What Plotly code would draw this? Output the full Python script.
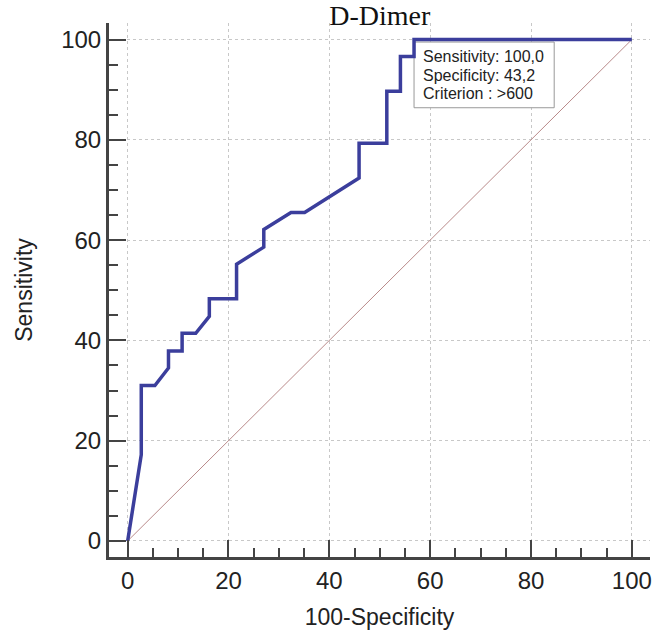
import plotly.graph_objects as go

# ROC curve points (100-Specificity, Sensitivity)
fpr = [0, 2.7, 2.7, 5.4, 8.1, 8.1, 10.8, 10.8, 13.5, 16.2, 16.2, 21.6, 21.6,
       27.0, 27.0, 32.4, 35.1, 45.9, 45.9, 51.4, 51.4, 54.1, 54.1, 56.8, 56.8, 100]
sens = [0, 17.2, 31.0, 31.0, 34.5, 37.9, 37.9, 41.4, 41.4, 44.8, 48.3, 48.3, 55.2,
        58.6, 62.1, 65.5, 65.5, 72.4, 79.3, 79.3, 89.7, 89.7, 96.6, 96.6, 100, 100]
diag_x = [0, 100]
diag_y = [0, 100]
tick_vals = [0, 20, 40, 60, 80, 100]
tick_text = ["0", "20", "40", "60", "80", "100"]
box_lines = ["Sensitivity: 100,0", "Specificity: 43,2", "Criterion : >600"]

# layout constants for the info box (data coordinates)
BOX_X0, BOX_X1, BOX_Y0, BOX_Y1 = 56.8, 84.6, 86.4, 99.5
TEXT_X = 58.1
TEXT_Y = [96.7, 92.9, 89.3]

fig = go.Figure()
fig.add_trace(go.Scatter(x=diag_x, y=diag_y, mode="lines",
                         line=dict(color="#b98a8a", width=1), hoverinfo="skip"))
fig.add_trace(go.Scatter(x=fpr, y=sens, mode="lines",
                         line=dict(color="#3b3e9c", width=3.5)))

axis_common = dict(
    automargin=False,
    showline=True, linecolor="#444444", linewidth=3, mirror=False,
    ticks="inside", ticklen=17, tickwidth=2, tickcolor="#444444",
    minor=dict(ticks="inside", ticklen=9, tickwidth=2, tickcolor="#444444", dtick=5, showgrid=False),
    showgrid=True, gridcolor="#c8c8c8", gridwidth=1, griddash="dot",
    zeroline=False, tickvals=tick_vals, ticktext=tick_text,
    tickfont=dict(family="Liberation Sans, Arial", size=24, color="#222222"),
)

annotations = []
for line, ty in zip(box_lines, TEXT_Y):
    annotations.append(dict(
        x=TEXT_X, y=ty, xref="x", yref="y", xanchor="left", yanchor="middle",
        text=line, showarrow=False, align="left",
        font=dict(family="Liberation Sans, Arial", size=16, color="#222222"),
    ))

fig.update_layout(
    width=653, height=635,
    margin=dict(l=109, r=3, t=23, b=78),
    paper_bgcolor="white", plot_bgcolor="white",
    showlegend=False,
    title=dict(text="D-Dimer", x=0.5815, xanchor="center", y=0.9756, yanchor="middle",
               automargin=False,
               font=dict(family="Liberation Serif, Times New Roman", size=28, color="#111111")),
    xaxis=dict(range=[-3.7, 103.6],
               title=dict(text="100-Specificity", standoff=17,
                          font=dict(family="Liberation Sans, Arial", size=23, color="#222222")),
               **axis_common),
    yaxis=dict(range=[-3.2, 103.3],
               title=dict(text="Sensitivity", standoff=23,
                          font=dict(family="Liberation Sans, Arial", size=23, color="#222222")),
               **axis_common),
    shapes=[dict(type="rect", xref="x", yref="y", x0=BOX_X0, x1=BOX_X1, y0=BOX_Y0, y1=BOX_Y1,
                 fillcolor="white", line=dict(color="#999999", width=1), layer="between")],
    annotations=annotations,
)

fig.write_html("out.html", config={"displayModeBar": False},
               post_script="document.body.style.margin='0';")
